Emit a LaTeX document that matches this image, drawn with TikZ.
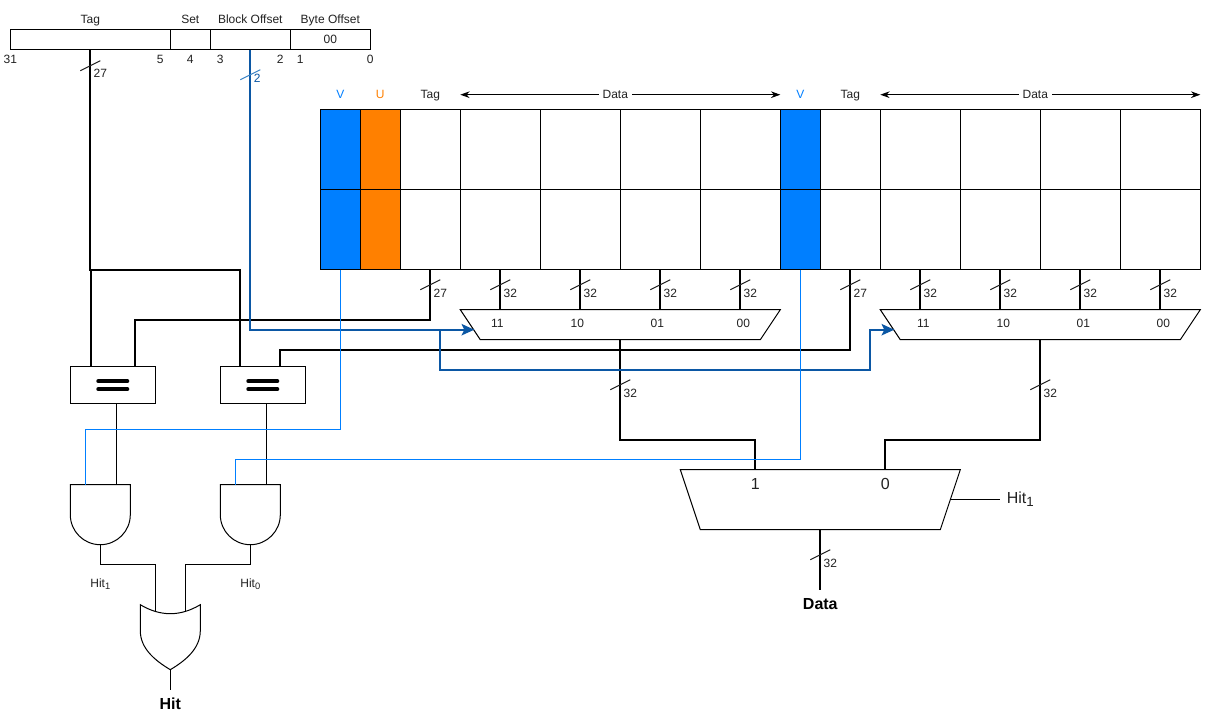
\documentclass[tikz,border=0pt]{standalone}
\usepackage{fontspec}
\setmainfont{Liberation Sans}
\usetikzlibrary{arrows.meta,calc}
\definecolor{vblue}{HTML}{007FFF}
\definecolor{uorange}{HTML}{FF8000}
\definecolor{wireblue}{HTML}{0B57A4}
\definecolor{slashblue}{HTML}{3D85C6}
\definecolor{ink}{HTML}{222222}
\newcommand{\cellbox}[6]{\node[cellnode,fill=#6,minimum width={(#4-#2)*0.75pt},minimum height={(#5-#3)*0.75pt}] (#1) at ({(#2+#4)/2},{(#3+#5)/2}) {};}
\newcommand{\hsub}[2]{Hit\raisebox{-0.35ex}{\fontsize{#2}{#2}\selectfont #1}}
\newcommand{\slashmark}[3][ink]{\draw[slashline,draw=#1] ($(#2)+(-10,#3+5)$) -- ($(#2)+(10,#3-5)$);}
\tikzset{
  x=0.75pt,y=-0.75pt,
  cellnode/.style={draw=black,line width=0.75pt,inner sep=0pt,outer sep=0pt},
  portbox/.style={inner sep=0pt,outer sep=0pt,minimum width=#1},
  lbl/.style={font=\fontsize{9}{11}\selectfont,text=ink,inner sep=0pt,text height=6.5pt,text depth=0pt,yshift=0.5pt},
  biglbl/.style={font=\fontsize{12}{14}\selectfont,text=ink,inner sep=0pt,text height=8.6pt,text depth=0pt,yshift=0.5pt},
  boldlbl/.style={font=\fontsize{12}{14}\selectfont\bfseries,text=black,inner sep=0pt,text height=8.6pt,text depth=0pt,yshift=0.5pt},
  thin wire/.style={draw=black,line width=0.75pt},
  bus/.style={draw=black,line width=1.5pt},
  addrbus/.style={draw=wireblue,line width=1.5pt},
  vwire/.style={draw=vblue,line width=0.75pt},
  slashline/.style={line width=0.75pt},
  gateshape/.style={draw=black,line width=0.75pt,fill=white,line join=miter},
  doublearrow/.style={draw=black,line width=0.75pt,{Stealth[length=7pt,width=5pt]}-{Stealth[length=7pt,width=5pt]}},
  busarrow/.style={-{Stealth[length=9.5pt,width=8.5pt,inset=2pt]}}
}
\begin{document}
\begin{tikzpicture}
\useasboundingbox (-0.3,-0.7) rectangle (1210.7,719.3);
\fill[white] (-0.3,-0.7) rectangle (1210.7,719.3);

% address register
\cellbox{regtag}{10}{29}{170}{49}{white}
\cellbox{regset}{170}{29}{210}{49}{white}
\cellbox{regblock}{210}{29}{290}{49}{white}
\cellbox{regbyte}{290}{29}{370}{49}{white}
\node[lbl] (t1) at (90,19) {Tag};
\node[lbl] (t2) at (190,19) {Set};
\node[lbl] (t3) at (250,19) {Block Offset};
\node[lbl] (t4) at (330,19) {Byte Offset};
\node[lbl] (t5) at (330,39) {00};
\node[lbl] (b31) at (10,59) {31};
\node[lbl] (b5) at (160,59) {5};
\node[lbl] (b4) at (190,59) {4};
\node[lbl] (b3) at (220,59) {3};
\node[lbl] (b2) at (280,59) {2};
\node[lbl] (b1) at (300,59) {1};
\node[lbl] (b0) at (370,59) {0};

% cache array
\foreach \r/\ya/\yb in {a/109/189,b/189/269}{
  \cellbox{v1\r}{320}{\ya}{360}{\yb}{vblue}
  \cellbox{u1\r}{360}{\ya}{400}{\yb}{uorange}
  \cellbox{tag1\r}{400}{\ya}{460}{\yb}{white}
  \cellbox{d13\r}{460}{\ya}{540}{\yb}{white}
  \cellbox{d12\r}{540}{\ya}{620}{\yb}{white}
  \cellbox{d11\r}{620}{\ya}{700}{\yb}{white}
  \cellbox{d10\r}{700}{\ya}{780}{\yb}{white}
  \cellbox{v2\r}{780}{\ya}{820}{\yb}{vblue}
  \cellbox{tag2\r}{820}{\ya}{880}{\yb}{white}
  \cellbox{d23\r}{880}{\ya}{960}{\yb}{white}
  \cellbox{d22\r}{960}{\ya}{1040}{\yb}{white}
  \cellbox{d21\r}{1040}{\ya}{1120}{\yb}{white}
  \cellbox{d20\r}{1120}{\ya}{1200}{\yb}{white}
}
\node[lbl,text=vblue] (hv1) at (340,94) {V};
\node[lbl,text=uorange] (hu) at (380,94) {U};
\node[lbl] (ht1) at (430,94) {Tag};
\node[lbl,text=vblue] (hv2) at (800,94) {V};
\node[lbl] (ht2) at (850,94) {Tag};
\coordinate (dl1) at (460,94);
\coordinate (dr1) at (780,94);
\coordinate (dl2) at (880,94);
\coordinate (dr2) at (1200,94);
\draw[doublearrow] (dl1) -- (dr1);
\draw[doublearrow] (dl2) -- (dr2);
\node[lbl,fill=white,inner xsep=3pt,inner ysep=1pt] (hd1) at (615,94) {Data};
\node[lbl,fill=white,inner xsep=3pt,inner ysep=1pt] (hd2) at (1035,94) {Data};

% comparators
\cellbox{cmpa}{70}{366}{155}{403}{white}
\cellbox{cmpb}{220}{366}{305}{403}{white}
\foreach \c in {cmpa,cmpb}{
  \draw[line width=3pt,line cap=round,draw=black] ($(\c.center)+(-14.5,-4)$) -- ($(\c.center)+(14.5,-4)$);
  \draw[line width=3pt,line cap=round,draw=black] ($(\c.center)+(-14.5,4)$) -- ($(\c.center)+(14.5,4)$);
}

% multiplexers
\node[portbox=240pt,minimum height=22.5pt] (muxa) at (620,324) {};
\node[portbox=240pt,minimum height=22.5pt] (muxb) at (1040,324) {};
\node[portbox=210pt,minimum height=45pt] (muxc) at (820,499) {};
\foreach \m in {muxa,muxb}{
  \draw[gateshape] (\m.north west) -- (\m.north east) -- ([xshift=-15pt]\m.south east) -- ([xshift=15pt]\m.south west) -- cycle;
}
\draw[gateshape] (muxc.north west) -- (muxc.north east) -- ([xshift=-15pt]muxc.south east) -- ([xshift=15pt]muxc.south west) -- cycle;
\foreach \lab/\xx in {11/497,10/577,01/657,00/743,11/923,10/1003,01/1083,00/1163}{
  \node[lbl] at (\xx,323) {\lab};
}
\node[biglbl] (sel1) at (755,484) {1};
\node[biglbl] (sel0) at (885,484) {0};

% gates
\node[portbox=45pt,minimum height=45pt] (anda) at (100,514) {};
\node[portbox=45pt,minimum height=45pt] (andb) at (250,514) {};
\foreach \g in {anda,andb}{
  \draw[gateshape] (\g.north west) -- (\g.north east) -- ([yshift=-22.5pt]\g.north east) arc[start angle=0,end angle=-180,radius=22.5pt] -- cycle;
}
\node[portbox=45pt,minimum height=48.75pt] (orgate) at (170,636.5) {};
\draw[gateshape] (140,604) .. controls (160,616) and (180,616) .. (200,604) -- (200,630) .. controls (200,648) and (185,660) .. (170,669) .. controls (155,660) and (140,648) .. (140,630) -- cycle;

% black buses
\coordinate (cmpaL) at (91,366);
\coordinate (cmpaR) at (135,366);
\coordinate (cmpbL) at (240,366);
\coordinate (cmpbR) at (280,366);
\coordinate (tagsplit) at (91,269);
\draw[bus] (regtag.south) -- (90,269) -- (tagsplit) -- (cmpaL);
\draw[bus] (tagsplit) -- (cmpbL |- tagsplit) -- (cmpbL);
\draw[bus] (tag1b.south) -- (430,319) -- (135,319) -- (cmpaR);
\draw[bus] (tag2b.south) -- (850,349) -- (280,349) -- (cmpbR);
\foreach \d in {d13,d12,d11,d10}{
  \draw[bus] (\d b.south) -- (\d b.south |- muxa.north);
}
\foreach \d in {d23,d22,d21,d20}{
  \draw[bus] (\d b.south) -- (\d b.south |- muxb.north);
}
\coordinate (muxcL) at (755,469);
\coordinate (muxcR) at (885,469);
\draw[bus] (muxa.south) -- (620,439) -- (755,439) -- (muxcL);
\draw[bus] (muxb.south) -- (1040,439) -- (885,439) -- (muxcR);
\coordinate (dataend) at (820,589);
\draw[bus] (muxc.south) -- (dataend);

% block offset bus
\coordinate (muxain) at (474,329);
\coordinate (muxbin) at (894,329);
\draw[addrbus,busarrow] (regblock.south) -- (250,329) -- (muxain);
\draw[addrbus,busarrow] (440,329) -- (440,369) -- (870,369) -- (870,329) -- (muxbin);

% thin wires
\coordinate (andaA) at (85,484);
\coordinate (andaB) at (116,484);
\coordinate (andbA) at (235,484);
\coordinate (andbB) at (266,484);
\draw[thin wire] (116,403) -- (andaB);
\draw[thin wire] (266,403) -- (andbB);
\draw[vwire] (v1b.south) -- (340,429) -- (85,429) -- (andaA);
\draw[vwire] (v2b.south) -- (800,459) -- (235,459) -- (andbA);
\coordinate (orA) at (155,610);
\coordinate (orB) at (185,610);
\draw[thin wire] (anda.south) -- ++(0,20) -- (155,564) -- (orA);
\draw[thin wire] (andb.south) -- ++(0,20) -- (185,564) -- (orB);
\coordinate (orout) at (170,669);
\coordinate (hitend) at (170,689);
\draw[thin wire] (orout) -- (hitend);
\coordinate (hitsel) at (950,499);
\coordinate (hitselend) at (1000,499);
\draw[thin wire] (hitsel) -- (hitselend);

% bus width marks
\coordinate (m1) at (90,65);
\coordinate (m2) at (250,74);
\slashmark{m1}{0}
\slashmark[slashblue]{m2}{0}
\node[lbl] (w1) at (100,73) {27};
\node[lbl,text=wireblue] (w2) at (257,78) {2};
\foreach \xx/\tx in {430/27,500/32,580/32,660/32,740/32,850/27,920/32,1000/32,1080/32,1160/32}{
  \coordinate (mk) at (\xx,284);
  \slashmark{mk}{0}
  \node[lbl] at (\xx+10,293) {\tx};
}
\coordinate (m3) at (620,384);
\coordinate (m4) at (1040,384);
\coordinate (m5) at (820,554);
\slashmark{m3}{0}
\slashmark{m4}{0}
\slashmark{m5}{0}
\node[lbl] (w3) at (630,393) {32};
\node[lbl] (w4) at (1050,393) {32};
\node[lbl] (w5) at (830,563) {32};

% signal labels
\node[lbl] (h1) at (100,583) {\hsub{1}{7}};
\node[lbl] (h0) at (250,583) {\hsub{0}{7}};
\node[biglbl] (hs) at (1020,498) {\hsub{1}{10}};
\node[boldlbl] (hit) at (170,704) {Hit};
\node[boldlbl] (data) at (820,604) {Data};
\end{tikzpicture}
\end{document}
